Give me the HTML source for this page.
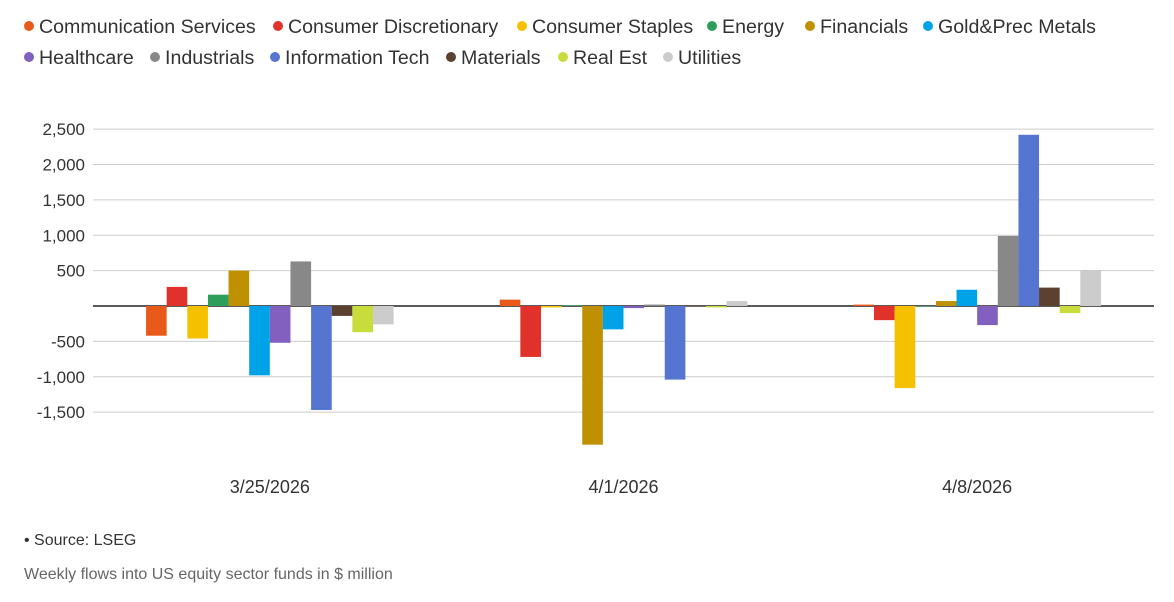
<!DOCTYPE html>
<html><head><meta charset="utf-8"><style>
body{margin:0;background:#fff;font-family:"Liberation Sans",sans-serif;}
#wrap{position:relative;width:1174px;height:602px;overflow:hidden;}
.leg{position:absolute;font-size:19.6px;color:#333;white-space:nowrap;}
.leg span.d{display:inline-block;width:10px;height:10px;border-radius:50%;margin-right:5px;vertical-align:2px;}
</style></head><body><div id="wrap">
<div id="legend"></div>
<svg id="svg" width="1174" height="602" style="position:absolute;left:0;top:0"></svg>
<div style="position:absolute;left:24px;top:532px;font-size:16px;color:#333">• Source: LSEG</div>
<div style="position:absolute;left:24px;top:566px;font-size:16px;color:#666">Weekly flows into US equity sector funds in $ million</div>
</div>
<script>
const categories=["3/25/2026","4/1/2026","4/8/2026"];
const seriesNames=["Communication Services","Consumer Discretionary","Consumer Staples","Energy","Financials","Gold&Prec Metals","Healthcare","Industrials","Information Tech","Materials","Real Est","Utilities"];
const colors=["#e8591a","#e0312b","#f5c000","#2e9e5b","#bf9000","#00a3e8","#8260c0","#888888","#5575d0","#5c4030","#c8dc3c","#cccccc"];
const values=[
[-420,90,20],[270,-720,-200],[-460,-20,-1160],[160,10,0],[500,-1960,70],[-980,-330,230],
[-520,-30,-270],[630,20,990],[-1470,-1040,2420],[-140,0,260],[-370,-20,-100],[-260,70,510]];
const ticks=[2500,2000,1500,1000,500,0,-500,-1000,-1500];
const tickLabels=["2,500","2,000","1,500","1,000","500","","-500","-1,000","-1,500"];
const NS="http://www.w3.org/2000/svg";
const svg=document.getElementById('svg');
const y=v=>306-v*0.07075;
const x0=93,x1=1154,cw=(x1-x0)/categories.length,bw=cw*0.7/seriesNames.length;
function el(t,a){const e=document.createElementNS(NS,t);for(const k in a)e.setAttribute(k,a[k]);svg.appendChild(e);return e;}
ticks.forEach((t,i)=>{
 const g=el('line',{x1:x0,x2:x1,y1:y(t),y2:y(t),stroke:t===0?'#222':'#ccc','stroke-width':t===0?1.5:1});
 
 
 if(tickLabels[i]){const tx=el('text',{x:85,y:y(t)+6,'text-anchor':'end','font-size':17,fill:'#333'});tx.textContent=tickLabels[i];
 
 }
});
categories.forEach((c,ci)=>{
 const cx=x0+cw*(ci+0.5);
 const start=cx-bw*seriesNames.length/2;
 seriesNames.forEach((s,si)=>{
  const v=values[si][ci];const top=Math.min(y(v),y(0));const h=Math.abs(y(v)-y(0));
  const r=el('rect',{x:start+si*bw,y:top,width:bw,height:Math.max(h,0.5),fill:colors[si]});
  
  
 });
 const t=el('text',{x:cx,y:493,'text-anchor':'middle','font-size':18,fill:'#333'});t.textContent=c;
 
 
});
const legX=[[24,273,517,707,805,923],[24,150,270,446,558,663]];
const leg=document.getElementById('legend');
seriesNames.forEach((s,i)=>{
 const d=document.createElement('div');d.className='leg';
 
 
 const r=Math.floor(i/6);
 d.style.left=legX[r][i%6]+'px';d.style.top=(16+r*31)+'px';
 d.innerHTML='<span class="d" style="background:'+colors[i]+'"></span>'+s;
 leg.appendChild(d);
});
</script></body></html>
